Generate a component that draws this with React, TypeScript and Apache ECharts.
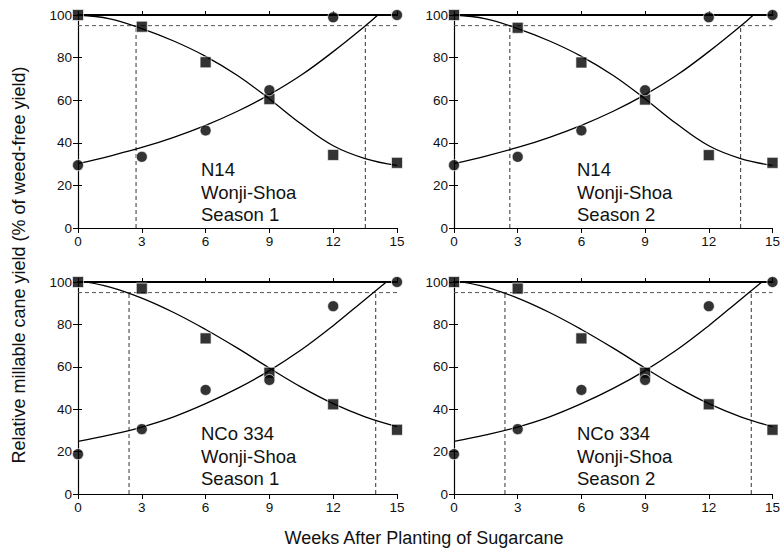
import React, { useEffect, useRef } from "react";
import * as echarts from "echarts";

// ---- data ----
const weeks = [0, 3, 6, 9, 12, 15];

const weedyN14S1 = [100, 94.5, 77.8, 60.5, 34.3, 30.6];
const weedFreeN14S1 = [29.5, 33.4, 45.8, 64.7, 98.9, 100];
const weedyN14S2 = [100, 94.0, 77.7, 60.3, 34.2, 30.6];
const weedFreeN14S2 = [29.5, 33.4, 45.8, 64.7, 98.9, 100];
const weedyNCoS1 = [100, 96.9, 73.4, 57.2, 42.3, 30.3];
const weedFreeNCoS1 = [18.8, 30.6, 49.1, 53.8, 88.6, 100];
const weedyNCoS2 = [100, 96.9, 73.4, 57.2, 42.3, 30.3];
const weedFreeNCoS2 = [18.8, 30.6, 49.1, 53.8, 88.6, 100];

// fitted curves, read at points along each curve
const weedyFitX = [0, 1.5, 3, 4.5, 6, 7.5, 9, 10.5, 12, 13.5, 15];
const weedyFitN14 = [100, 98.2, 93.6, 87.8, 80.6, 71.6, 60.6, 48.8, 38.6, 32.6, 29.4];
const weedyFitNCo = [100.6, 97.6, 92.4, 85.6, 77.6, 68.8, 59.4, 50.4, 42.6, 36.4, 31.8];

const weedFreeFitN14X = [0, 1.5, 3, 4.5, 6, 7.5, 9, 10.5, 12, 13.5, 14.1];
const weedFreeFitN14 = [30.2, 33.8, 37.8, 42.6, 48.2, 54.8, 62.6, 71.8, 82.8, 94.8, 100];
const weedFreeFitNCoX = [0, 1.5, 3, 4.5, 6, 7.5, 9, 10.5, 12, 13.5, 14.5];
const weedFreeFitNCo = [24.8, 27.9, 31.6, 36.4, 42.6, 49.8, 58.2, 68, 79.4, 91.8, 100];

const acceptableYield = 95;
const criticalN14S1 = [2.73, 13.51];
const criticalN14S2 = [2.63, 13.5];
const criticalNCoS1 = [2.4, 14.0];
const criticalNCoS2 = [2.4, 14.0];

const panelLabels = [
  ["N14", "Wonji-Shoa", "Season 1"],
  ["N14", "Wonji-Shoa", "Season 2"],
  ["NCo 334", "Wonji-Shoa", "Season 1"],
  ["NCo 334", "Wonji-Shoa", "Season 2"],
];

const xTicks = [0, 3, 6, 9, 12, 15];
const yTicks = [0, 20, 40, 60, 80, 100];

const xTitle = "Weeks After Planting of Sugarcane";
const yTitle = "Relative millable cane yield (% of weed-free yield)";

const FONT = "'Liberation Sans', Arial, sans-serif";

const panels = [
  { weedy: weedyN14S1, free: weedFreeN14S1, wFit: weedyFitN14, fX: weedFreeFitN14X, fFit: weedFreeFitN14, crit: criticalN14S1 },
  { weedy: weedyN14S2, free: weedFreeN14S2, wFit: weedyFitN14, fX: weedFreeFitN14X, fFit: weedFreeFitN14, crit: criticalN14S2 },
  { weedy: weedyNCoS1, free: weedFreeNCoS1, wFit: weedyFitNCo, fX: weedFreeFitNCoX, fFit: weedFreeFitNCo, crit: criticalNCoS1 },
  { weedy: weedyNCoS2, free: weedFreeNCoS2, wFit: weedyFitNCo, fX: weedFreeFitNCoX, fFit: weedFreeFitNCo, crit: criticalNCoS2 },
];

const gridBoxes = [
  { left: 78, top: 15, width: 319, height: 213 },
  { left: 454, top: 15, width: 321, height: 213 },
  { left: 78, top: 282, width: 319, height: 212 },
  { left: 454, top: 282, width: 321, height: 212 },
];

function buildOption() {
  const grid: any[] = [];
  const xAxis: any[] = [];
  const yAxis: any[] = [];
  const series: any[] = [];
  const graphic: any[] = [];

  panels.forEach((p, i) => {
    grid.push({ ...gridBoxes[i], containLabel: false });
    const lbl = { color: "#111", fontSize: 13.5, fontFamily: FONT };
    xAxis.push({
      type: "value", gridIndex: i, min: xTicks[0], max: xTicks[xTicks.length - 1], interval: 3,
      position: "bottom",
      axisLine: { show: true, onZero: false, lineStyle: { color: "#000", width: 1.2 } },
      axisTick: { show: true, length: 5, lineStyle: { color: "#000" } },
      axisLabel: { ...lbl, margin: 6 },
      splitLine: { show: false },
    });
    xAxis.push({
      type: "value", gridIndex: i, min: xTicks[0], max: xTicks[xTicks.length - 1], interval: 3,
      position: "top",
      axisLine: { show: true, onZero: false, lineStyle: { color: "#000", width: 2 } },
      axisTick: { show: true, length: 4, lineStyle: { color: "#000" } },
      axisLabel: { show: false },
      splitLine: { show: false },
    });
    yAxis.push({
      type: "value", gridIndex: i, min: yTicks[0], max: yTicks[yTicks.length - 1], interval: 20,
      position: "left",
      axisLine: { show: true, onZero: false, lineStyle: { color: "#000", width: 1.2 } },
      axisTick: { show: true, length: 5, lineStyle: { color: "#000" } },
      axisLabel: { ...lbl, margin: 6 },
      splitLine: { show: false },
    });
    yAxis.push({
      type: "value", gridIndex: i, min: yTicks[0], max: yTicks[yTicks.length - 1], interval: 20,
      position: "right",
      axisLine: { show: false },
      axisTick: { show: true, length: 4, lineStyle: { color: "#000" } },
      axisLabel: { show: false },
      splitLine: { show: false },
    });
    const xi = 2 * i;
    const yi = 2 * i;
    const dashed = { color: "#333", width: 1, type: [4, 3] as any };
    series.push({
      type: "line", xAxisIndex: xi, yAxisIndex: yi, showSymbol: false, silent: true,
      data: [[xTicks[0], acceptableYield], [xTicks[xTicks.length - 1], acceptableYield]],
      lineStyle: { ...dashed, color: "#555" }, z: 1,
    });
    p.crit.forEach((c) => {
      series.push({
        type: "line", xAxisIndex: xi, yAxisIndex: yi, showSymbol: false, silent: true,
        data: [[c, 0], [c, acceptableYield]],
        lineStyle: dashed, z: 1,
      });
    });
    series.push({
      type: "line", xAxisIndex: xi, yAxisIndex: yi, showSymbol: false, smooth: 0.4, silent: true,
      data: weedyFitX.map((x, k) => [x, p.wFit[k]]),
      lineStyle: { color: "#000", width: 1.3 }, z: 2,
    });
    series.push({
      type: "line", xAxisIndex: xi, yAxisIndex: yi, showSymbol: false, smooth: 0.4, silent: true,
      data: p.fX.map((x, k) => [x, p.fFit[k]]),
      lineStyle: { color: "#000", width: 1.3 }, z: 2,
    });
    series.push({
      type: "scatter", xAxisIndex: xi, yAxisIndex: yi, symbol: "rect", symbolSize: 11,
      data: weeks.map((x, k) => [x, p.weedy[k]]),
      itemStyle: { color: "#000", borderColor: "#fff", borderWidth: 0.8 }, z: 3,
    });
    series.push({
      type: "scatter", xAxisIndex: xi, yAxisIndex: yi, symbol: "circle", symbolSize: 11,
      data: weeks.map((x, k) => [x, p.free[k]]),
      itemStyle: { color: "#000", borderColor: "#fff", borderWidth: 0.8 }, z: 4,
    });

    const g = gridBoxes[i];
    const textLeft = g.left + 123;
    const lineY0 = i < 2 ? 170 : 434;
    panelLabels[i].forEach((t, k) => {
      graphic.push({
        type: "text", left: textLeft, top: lineY0 + k * 22.7 - 10,
        style: { text: t, fill: "#111", font: `18.5px ${FONT}` },
        z: 10,
      });
    });
  });

  graphic.push({
    type: "text", x: 424, y: 538,
    style: { text: xTitle, fill: "#111", font: `18px ${FONT}`, align: "center", verticalAlign: "middle" },
  });
  graphic.push({
    type: "text", x: 19, y: 265, rotation: Math.PI / 2,
    style: { text: yTitle, fill: "#111", font: `18px ${FONT}`, align: "center", verticalAlign: "middle" },
  });

  return { animation: false, backgroundColor: "#fff", grid, xAxis, yAxis, series, graphic };
}

export default function App() {
  const ref = useRef<HTMLDivElement>(null);
  useEffect(() => {
    if (!ref.current) return;
    const chart = echarts.init(ref.current, undefined, { renderer: "svg" });
    chart.setOption(buildOption() as any);
    return () => chart.dispose();
  }, []);
  return (
    <div
      ref={ref}
      style={{ position: "fixed", left: 0, top: 0, width: 783, height: 551, background: "#fff" }}
    />
  );
}
